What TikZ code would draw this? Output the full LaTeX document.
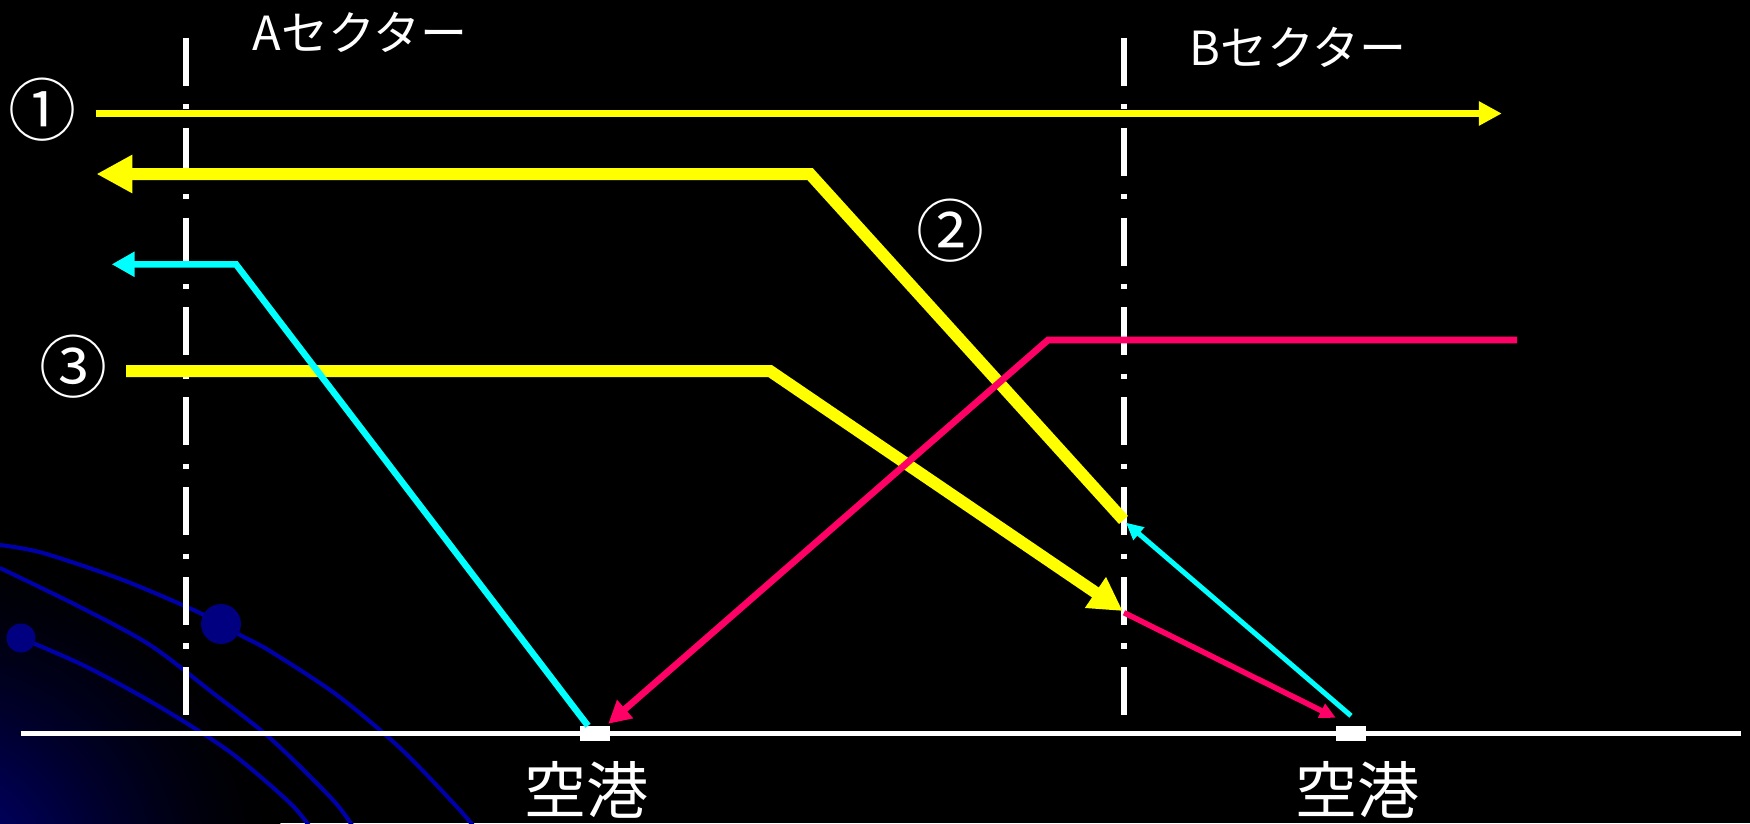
\documentclass[tikz,border=0pt]{standalone}
\usepackage{fontspec}
\setmainfont{Noto Sans CJK JP}
\usetikzlibrary{arrows.meta}

\definecolor{routeyellow}{RGB}{255,255,0}
\definecolor{routecyan}{RGB}{0,255,255}
\definecolor{routered}{RGB}{255,0,102}
\definecolor{decoblue}{RGB}{0,0,170}
\definecolor{glowblue}{RGB}{0,0,135}

\begin{document}
\begin{tikzpicture}[
  x=1pt, y=-1pt,
  sectorline/.style={white, line width=6pt, dash pattern=on 48pt off 18.3pt on 5.3pt off 18.3pt},
  sectortext/.style={text=white, inner sep=0pt, font=\fontsize{47}{50}\selectfont},
  porttext/.style={text=white, inner sep=0pt, font=\fontsize{62}{66}\selectfont},
  routeno/.style={text=white, inner sep=0pt, font=\fontsize{68}{72}\selectfont},
  airport/.style={fill=white, minimum width=30pt, minimum height=15pt, inner sep=0pt},
  thinroute/.style={line width=7.3pt},
  boldroute/.style={line width=12pt},
  decoline/.style={decoblue, line width=4pt}
]
\fill[black] (0,0) rectangle (1750,823);
\useasboundingbox (0,0) rectangle (1750,823);

% background glow and curves in the lower left corner
\begin{scope}
  \clip (0,0) rectangle (1750,823);
  \foreach \k in {1,...,40}{
    \pgfmathsetmacro{\rad}{345*(41-\k)/40}
    \pgfmathsetmacro{\mix}{100*(\k/40)^1.6}
    \fill[glowblue!\mix!black] (-60,880) circle (\rad);
  }
  \draw[decoline] plot[smooth] coordinates {(0,545) (43,553) (123,580) (200,613) (240,635) (270,651) (337,695) (400,748) (457,807) (485,840)};
  \draw[decoline] plot[smooth] coordinates {(0,568) (80,607) (150,645) (213,693) (270,738) (333,800) (355,830)};
  \draw[decoline] plot[smooth] coordinates {(21,638) (87,667) (160,707) (230,752) (290,803) (312,830)};
  \fill[blue!50!black] (221,624) circle (20);
  \fill[blue!50!black] (21,638) circle (14.5);
\end{scope}

% sector boundaries
\coordinate (atop) at (186,37.7);
\coordinate (abot) at (186,715.7);
\coordinate (btop) at (1124,37.7);
\coordinate (bbot) at (1124,715.7);
\draw[sectorline] (atop) -- (abot);
\draw[sectorline] (btop) -- (bbot);
\node[sectortext] (secA) at (360,32) {Aセクター};
\node[sectortext] (secB) at (1298,47) {Bセクター};

% ground and airports
\coordinate (gw) at (20.7,733.3);
\coordinate (ge) at (1741,733.3);
\draw[white, line width=5.3pt] (gw) -- (ge);
\node[airport] (apA) at (595,733.5) {};
\node[airport] (apB) at (1351,733.5) {};
\node[porttext] (nameA) at (586,790) {空港};
\node[porttext] (nameB) at (1357,790) {空港};

% route numbers
\node[routeno] (no1) at (42.7,110) {①};
\node[routeno] (no2) at (950.5,231) {②};
\node[routeno] (no3) at (73.3,367) {③};

% route 1: straight through
\coordinate (r1s) at (95.7,113.5);
\coordinate (r1e) at (1501.8,113.5);
\draw[routeyellow, thinroute, -{Triangle[length=23pt,width=23pt]}] (r1s) -- (r1e);

% route 2: climb out of B sector
\coordinate (r2s) at (1123.5,520);
\coordinate (r2k) at (810,174);
\coordinate (r2e) at (96.4,174);
\draw[routeyellow, boldroute, -{Triangle[length=36pt,width=36pt]}] (r2s) -- (r2k) -- (r2e);

% route 3: descent into B sector
\coordinate (r3s) at (126,371);
\coordinate (r3k) at (770,371);
\coordinate (r3e) at (1122.7,611);
\draw[routeyellow, boldroute, -{Triangle[length=33pt,width=35pt]}] (r3s) -- (r3k) -- (r3e);

% cyan: departures
\coordinate (cAk) at (236,264.3);
\coordinate (cAe) at (111.7,264.3);
\draw[routecyan, line width=6.5pt, -{Triangle[length=23pt,width=24pt]}] ([xshift=-7pt]apA.north) -- (cAk) -- (cAe);
\coordinate (cBe) at (1126,522.7);
\draw[routecyan, line width=5pt, -{Triangle[length=17pt,width=16pt]}] ([yshift=10pt]apB.north) -- (cBe);

% red: arrivals
\coordinate (rAs) at (1517,340);
\coordinate (rAk) at (1048,340);
\draw[routered, line width=6.7pt, -{Triangle[length=22.5pt,width=23pt]}] (rAs) -- (rAk) -- ([xshift=-2pt,yshift=2pt]apA.north east);
\coordinate (rBs) at (1124,612.7);
\draw[routered, line width=5.5pt, -{Triangle[length=16pt,width=15pt]}] (rBs) -- ([yshift=8pt]apB.north west);
\end{tikzpicture}
\end{document}
